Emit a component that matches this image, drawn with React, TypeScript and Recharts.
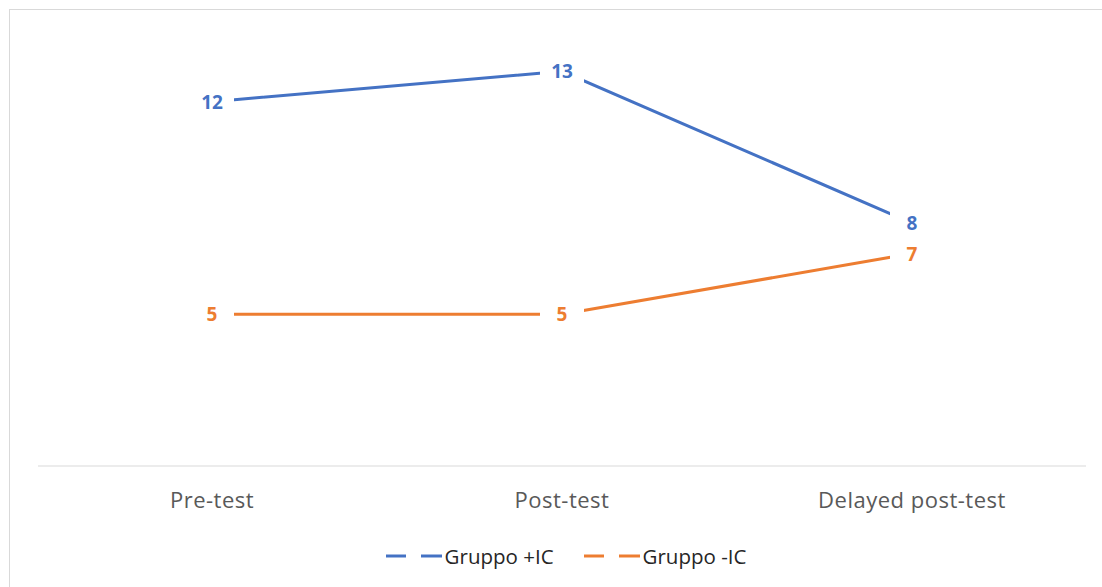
import React from 'react';
import { LineChart, Line, XAxis, YAxis, Legend, LabelList } from 'recharts';

const categories = ['Pre-test', 'Post-test', 'Delayed post-test'];
const gruppoPiuIC = [12, 13, 8];
const gruppoMenoIC = [5, 5, 7];

const series = [
  { key: 'piu', name: 'Gruppo +IC', color: '#4472C4', values: gruppoPiuIC },
  { key: 'meno', name: 'Gruppo -IC', color: '#ED7D31', values: gruppoMenoIC },
];

const data = categories.map((c, i) => ({
  category: c,
  piu: gruppoPiuIC[i],
  meno: gruppoMenoIC[i],
}));

const FONT = '"Open Sans", "Liberation Sans", sans-serif';

const makeLabel = (color: string) => (props: any) => {
  const { x, y, value } = props;
  return (
    <g>
      <rect x={x - 22} y={y - 13} width={44} height={26} fill="#ffffff" />
      <text
        x={x}
        y={y}
        dy={7}
        textAnchor="middle"
        fill={color}
        fontFamily={FONT}
        fontWeight={700}
        fontSize={19}
      >
        {value}
      </text>
    </g>
  );
};

const LegendContent = () => (
  <div style={{ display: 'flex', justifyContent: 'center', gap: 30, fontFamily: FONT, fontSize: 20.5, color: '#262626' }}>
    {series.map((s) => (
      <div key={s.key} style={{ display: 'flex', alignItems: 'center' }}>
        <svg width={56} height={10} style={{ marginRight: 3 }}>
          <line x1={0} y1={5} x2={20} y2={5} stroke={s.color} strokeWidth={3} />
          <line x1={35} y1={5} x2={56} y2={5} stroke={s.color} strokeWidth={3} />
        </svg>
        <span>{s.name}</span>
      </div>
    ))}
  </div>
);

export default function App() {
  return (
    <div
      style={{
        position: 'fixed',
        left: 9,
        top: 9,
        width: 1093,
        height: 578,
        boxSizing: 'border-box',
        borderTop: '1px solid #d9d9d9',
        borderLeft: '1px solid #d9d9d9',
        background: '#ffffff',
        overflow: 'hidden',
      }}
    >
      <LineChart
        width={1092}
        height={577}
        data={data}
        margin={{ top: 31, right: 16, left: 28, bottom: 61 }}
      >
        <XAxis
          dataKey="category"
          height={60}
          padding={{ left: 174, right: 174 }}
          axisLine={{ stroke: '#d9d9d9', strokeWidth: 1 }}
          tickLine={false}
          tick={{ fill: '#595959', fontSize: 22, fontFamily: FONT, letterSpacing: 0.5 }}
          tickMargin={20}
        />
        <YAxis hide domain={[0, 14]} />
        <Legend
          verticalAlign="middle"
          wrapperStyle={{ top: 532, left: 20, width: 1072 }}
          content={<LegendContent />}
        />
        {series.map((s) => (
          <Line
            key={s.key}
            dataKey={s.key}
            name={s.name}
            stroke={s.color}
            strokeWidth={3}
            dot={false}
            activeDot={false}
            isAnimationActive={false}
          >
            <LabelList dataKey={s.key} content={makeLabel(s.color)} />
          </Line>
        ))}
      </LineChart>
    </div>
  );
}
